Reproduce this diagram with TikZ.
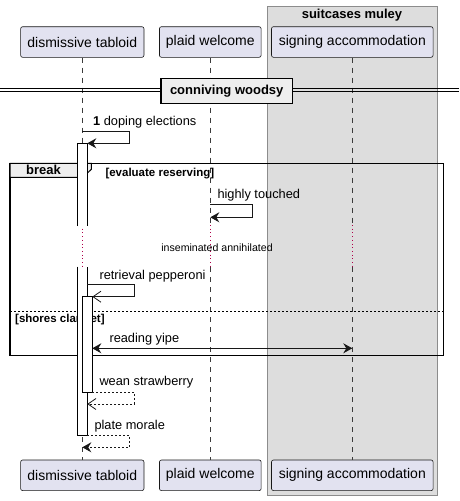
\documentclass[tikz,border=0pt]{standalone}
\usepackage{fontspec}
\setmainfont{Liberation Sans}
\usepackage{xcolor}
\usepackage{tikz}
\usetikzlibrary{arrows.meta, positioning, calc}

\definecolor{partfill}{HTML}{E2E2F0}
\definecolor{partline}{HTML}{181818}
\definecolor{boxfill}{HTML}{DDDDDD}
\definecolor{grpfill}{HTML}{EEEEEE}
\definecolor{delaycol}{HTML}{B0004A}

\begin{document}
\begin{tikzpicture}[
    x=1pt, y=-1pt,
    every node/.style={font=\fontsize{12.8}{15}\selectfont, inner sep=0pt},
    partbox/.style={draw=partline, fill=partfill, line width=0.6pt, rounded corners=2pt,
                    minimum height=30.6pt, font=\fontsize{14}{16}\selectfont},
    boldlabel/.style={font=\fontsize{13}{15}\selectfont\bfseries},
    guardlabel/.style={font=\fontsize{11.5}{13}\selectfont\bfseries},
    lifeline/.style={draw=partline!85, line width=0.5pt, dash pattern=on 5pt off 5pt},
    delayline/.style={draw=delaycol, line width=1pt, dash pattern=on 1pt off 2.7pt},
    actbar/.style={draw=black, line width=1pt},
    msg/.style={draw=partline, line width=1pt, -{Stealth[length=9pt,width=10pt,inset=3pt]}},
    openmsg/.style={draw=partline, line width=1pt, -{Straight Barb[length=8pt,width=11pt,line width=0.8pt]}},
    retmsg/.style={dash pattern=on 2pt off 2pt}
]

% 画布大小
\useasboundingbox (0,0) rectangle (459,501);

% 参与者所在的横坐标
\def\xA{82.3}
\def\xB{210.3}
\def\xC{352.3}
\def\yDelayA{225}
\def\yDelayB{267}

% 灰色分组框
\draw[fill=boxfill, draw=gray!90, line width=1pt] (267.3,6) rectangle (437.3,495.7);
\node[boldlabel] (boxtitle) at (352,15) {suitcases muley};

% 参与者（上、下）
\node[partbox, minimum width=123.3pt] (dtTop) at (\xA,42) {dismissive tabloid};
\node[partbox, minimum width=101.7pt] (pwTop) at (\xB,42) {plaid welcome};
\node[partbox, minimum width=161.6pt] (saTop) at (\xC,42) {signing accommodation};
\node[partbox, minimum width=123.3pt] (dtBot) at (\xA,475.3) {dismissive tabloid};
\node[partbox, minimum width=101.7pt] (pwBot) at (\xB,475.3) {plaid welcome};
\node[partbox, minimum width=161.6pt] (saBot) at (\xC,475.3) {signing accommodation};

% 生命线（中间为延时段）
\foreach \p in {dt,pw,sa} {
    \draw[lifeline] (\p Top.south) -- (\p Top.south |- 0,\yDelayA);
    \draw[delayline] (\p Top.south |- 0,\yDelayA) -- (\p Top.south |- 0,\yDelayB);
    \draw[lifeline] (\p Top.south |- 0,\yDelayB) -- (\p Bot.north);
}
\node[font=\fontsize{10.6}{12}\selectfont] (delaytext) at (217,247.3) {inseminated annihilated};

% 分隔线
\draw[line width=0.8pt] (0,88.3) -- (459,88.3);
\draw[line width=0.8pt] (0,91.7) -- (459,91.7);
\node[boldlabel, draw, fill=grpfill, line width=1.5pt, minimum width=131.3pt, minimum height=25pt]
    (divider) at (226.7,90.8) {conniving woodsy};

% break 组合框
\draw[line width=1.5pt] (10,163.3) rectangle (443.3,355.3);
\draw[fill=grpfill, line width=1pt] (10,163.3) -- (91.3,163.3) -- (91.3,169.3) -- (83,177.3) -- (10,177.3) -- cycle;
\node[boldlabel] (breaklabel) at (43.5,170.3) {break};
\node[guardlabel, anchor=west] (guard1) at (105.3,173.3) {[evaluate reserving]};
\draw[line width=0.8pt, dash pattern=on 2pt off 2pt] (10,311.7) -- (443.3,311.7);
\node[guardlabel, anchor=west] (guard2) at (15,319.3) {[shores clarinet]};

% 激活条
\fill[white] (77.3,143.3) rectangle (87.3,226);
\fill[white] (77.3,266.7) rectangle (87.3,435);
\draw[actbar] (77.3,226) -- (77.3,143.3) -- (87.3,143.3) -- (87.3,226);
\draw[actbar] (77.3,266.7) -- (77.3,435) -- (87.3,435) -- (87.3,266.7);
\draw[actbar, fill=white] (82.3,296.7) rectangle (92.3,392.3);

% 消息端点
\coordinate (m1a) at (\xA,131);    \coordinate (m1b) at (87.3,143.3);
\coordinate (m2a) at (\xB,204.3);  \coordinate (m2b) at (\xB,217.3);
\coordinate (m3a) at (87.3,284.3); \coordinate (m3b) at (92.3,296.7);
\coordinate (m4a) at (92.3,348.3); \coordinate (m4b) at (\xC,348.3);
\coordinate (m5a) at (92.3,392.3); \coordinate (m5b) at (87.3,404);
\coordinate (m6a) at (87.3,435);   \coordinate (m6b) at (\xA,447.3);

% 消息
\draw[msg] (m1a) -- ++(47,0) |- (m1b);
\node[anchor=west] (m1text) at (93,121.7) {\textbf{1} doping elections};
\draw[msg] (m2a) -- ++(42,0) |- (m2b);
\node[anchor=west] (m2text) at (217.3,195) {highly touched};
\draw[openmsg] (m3a) -- ++(47,0) |- (m3b);
\node[anchor=west] (m3text) at (99.3,276) {retrieval pepperoni};
\draw[msg, {Stealth[length=9pt,width=10pt,inset=3pt]}-{Stealth[length=9pt,width=10pt,inset=3pt]}] (m4a) -- (m4b);
\node[anchor=west] (m4text) at (109.3,339.3) {reading yipe};
\draw[openmsg, retmsg] (m5a) -- ++(42,0) |- (m5b);
\node[anchor=west] (m5text) at (99.3,381.7) {wean strawberry};
\draw[msg, retmsg] (m6a) -- ++(42,0) |- (m6b);
\node[anchor=west] (m6text) at (94.3,426) {plate morale};

\end{tikzpicture}
\end{document}
